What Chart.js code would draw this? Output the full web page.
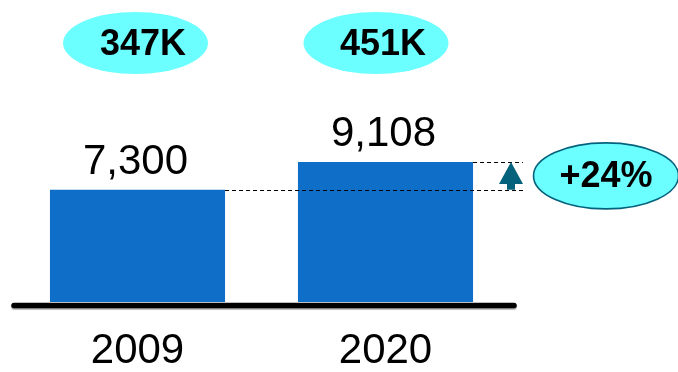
<!DOCTYPE html>
<html>
<head>
<meta charset="utf-8">
<script src="https://cdn.jsdelivr.net/npm/chart.js@4"></script>
<style>
  html, body { margin: 0; padding: 0; background: #ffffff; }
  canvas { display: block; }
</style>
</head>
<body>
<canvas id="chart" width="678" height="372"></canvas>
<script>
// Categories and values
const years = ['2009', '2020'];
const counts = [7300, 9108];
const badgeLabels = ['347K', '451K'];
const growthLabel = '+24%';

const BAR_BLUE = '#0F6EC7';
const CYAN = '#6CFFFF';
const TEAL = '#05627C';
const FONT = '"Liberation Sans", Arial, sans-serif';

function ellipse(ctx, cx, cy, rx, ry, fill, stroke) {
  ctx.beginPath();
  ctx.ellipse(cx, cy, rx, ry, 0, 0, Math.PI * 2);
  ctx.fillStyle = fill;
  ctx.fill();
  if (stroke) {
    ctx.lineWidth = 1.6;
    ctx.strokeStyle = stroke;
    ctx.stroke();
  }
}

const annotations = {
  id: 'annotations',
  afterDatasetsDraw(chart) {
    const ctx = chart.ctx;
    const area = chart.chartArea;
    const x = chart.scales.x;
    const y = chart.scales.y;
    const bars = chart.getDatasetMeta(0).data;
    ctx.save();

    // thick baseline under the bars
    ctx.save();
    ctx.shadowColor = 'rgba(0,0,0,0.35)';
    ctx.shadowOffsetY = 1.5;
    ctx.shadowBlur = 1;
    ctx.beginPath();
    ctx.moveTo(area.left + 0.5, area.bottom + 3.5);
    ctx.lineTo(area.right + 4.5, area.bottom + 3.5);
    ctx.lineWidth = 5.5;
    ctx.lineCap = 'round';
    ctx.strokeStyle = '#000';
    ctx.stroke();
    ctx.restore();

    // value labels above each bar
    ctx.fillStyle = '#000';
    ctx.textAlign = 'center';
    ctx.textBaseline = 'alphabetic';
    ctx.font = '42px ' + FONT;
    counts.forEach((v, i) => {
      const px = x.getPixelForValue(i);
      const py = y.getPixelForValue(v);
      ctx.fillText(v.toLocaleString('en-US'), px - 2, py - 16);
    });

    // badges at the top
    const badgeShift = [-2, -9.5];
    const textShift = [5.5, -2.5];
    ctx.font = 'bold 36px ' + FONT;
    badgeLabels.forEach((t, i) => {
      const px = x.getPixelForValue(i);
      ellipse(ctx, px + badgeShift[i], 43, 72.5, 31, CYAN);
      ctx.fillStyle = '#000';
      ctx.textBaseline = 'middle';
      ctx.fillText(t, px + textShift[i], 45);
    });

    // dashed guides from each bar top
    const yLow = y.getPixelForValue(counts[0]);
    const yHigh = y.getPixelForValue(counts[1]);
    const guideEnd = area.right + 13.5;
    ctx.setLineDash([4, 3]);
    ctx.lineWidth = 1;
    ctx.strokeStyle = '#000';
    ctx.beginPath();
    ctx.moveTo(bars[0].x + bars[0].width / 2, Math.round(yLow) + 0.5);
    ctx.lineTo(guideEnd, Math.round(yLow) + 0.5);
    ctx.moveTo(bars[1].x + bars[1].width / 2, Math.round(yHigh) + 0.5);
    ctx.lineTo(guideEnd, Math.round(yHigh) + 0.5);
    ctx.stroke();
    ctx.setLineDash([]);

    // up arrow between the guides
    const ax = area.right + 1.5;
    const headH = 22;
    ctx.fillStyle = TEAL;
    ctx.beginPath();
    ctx.moveTo(ax, yHigh);
    ctx.lineTo(ax + 12, yHigh + headH);
    ctx.lineTo(ax + 4, yHigh + headH);
    ctx.lineTo(ax + 4, yLow);
    ctx.lineTo(ax - 4, yLow);
    ctx.lineTo(ax - 4, yHigh + headH);
    ctx.lineTo(ax - 12, yHigh + headH);
    ctx.closePath();
    ctx.fill();

    // growth badge
    const gx = area.right + 96.5;
    const gy = (yLow + yHigh) / 2;
    ellipse(ctx, gx, gy, 72.5, 33, CYAN, TEAL);
    ctx.fillStyle = '#000';
    ctx.font = 'bold 36px ' + FONT;
    ctx.textBaseline = 'middle';
    ctx.fillText(growthLabel, gx, gy + 1);

    ctx.restore();
  }
};

new Chart(document.getElementById('chart'), {
  type: 'bar',
  data: {
    labels: years,
    datasets: [{
      data: counts,
      backgroundColor: BAR_BLUE,
      borderWidth: 0,
      categoryPercentage: 1,
      barPercentage: 0.706
    }]
  },
  options: {
    responsive: false,
    animation: false,
    events: [],
    layout: { padding: { left: 13.5, right: 168.5, top: 10, bottom: 0 } },
    plugins: { legend: { display: false }, tooltip: { enabled: false } },
    scales: {
      x: {
        grid: { display: false, drawTicks: false },
        border: { display: false },
        afterFit(scale) { scale.height = 70; },
        ticks: {
          color: '#000',
          font: { family: FONT, size: 42, lineHeight: 1 },
          padding: 28,
          maxRotation: 0,
          autoSkip: false
        }
      },
      y: { display: false, min: 0, max: 19000 }
    }
  },
  plugins: [annotations]
});
</script>
</body>
</html>
